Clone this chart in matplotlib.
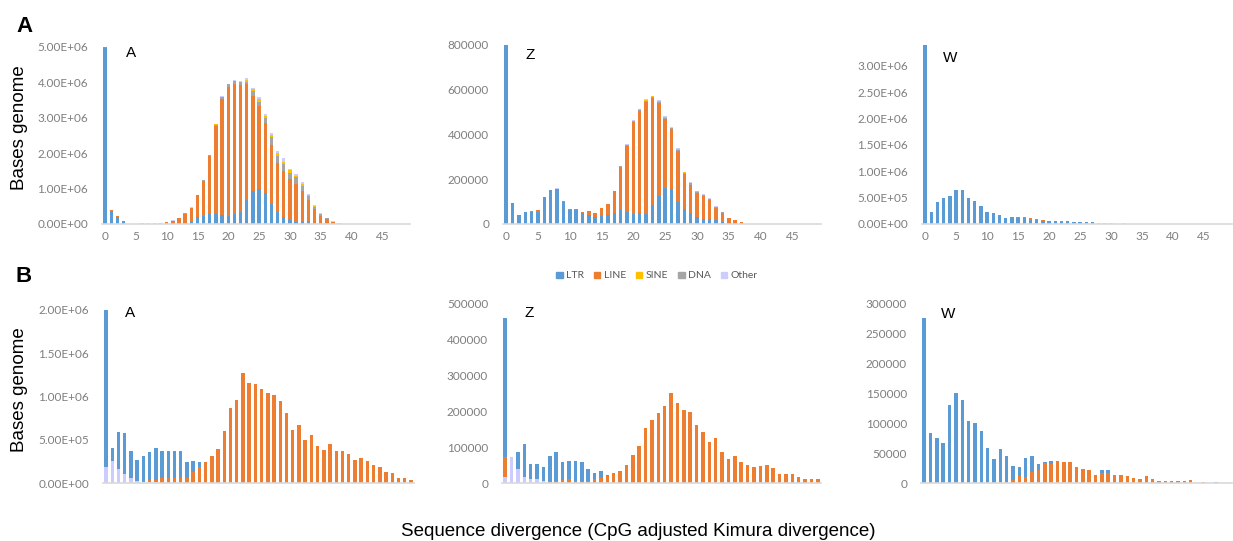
import numpy as np
import matplotlib
matplotlib.use("Agg")
import matplotlib.pyplot as plt
from matplotlib.patches import Patch

# ---- data (thousands of bases), bins = divergence 0..49 ----
bins = np.arange(50)

# top row: A, Z, W chromosomes
a_top_ltr = [4950, 370, 200, 80, 5, 5, 0, 0, 10, 10, 10, 20, 30, 40, 70, 190, 230, 280, 280, 250,
             230, 280, 350, 680, 930, 990, 860, 560, 330, 190, 110, 70, 70, 60, 30, 20, 10, 5, 0, 0,
             0, 0, 0, 0, 0, 0, 0, 0, 0, 0]
a_top_line = [50, 20, 20, 10, 0, 0, 0, 0, 0, 0, 40, 70, 130, 250, 380, 620, 990, 1630, 2480, 3280,
              3640, 3670, 3570, 3250, 2680, 2320, 1980, 1670, 1400, 1310, 1150, 1060, 870, 620, 390, 210, 120, 55, 0, 0,
              0, 0, 0, 0, 0, 0, 0, 0, 0, 0]
a_top_dna = [0, 0, 0, 0, 0, 0, 0, 0, 0, 0, 0, 0, 0, 10, 10, 10, 10, 20, 40, 50,
             60, 70, 70, 80, 150, 140, 160, 220, 190, 190, 190, 180, 140, 100, 70, 40, 30, 10, 0, 0,
             0, 0, 0, 0, 0, 0, 0, 0, 0, 0]
a_top_sine = [0, 0, 0, 0, 0, 0, 0, 0, 0, 0, 0, 0, 0, 0, 0, 0, 0, 0, 10, 10,
              10, 10, 10, 50, 50, 70, 50, 70, 80, 70, 60, 50, 50, 40, 20, 10, 10, 0, 0, 0,
              0, 0, 0, 0, 0, 0, 0, 0, 0, 0]
a_top_other = [0, 0, 0, 0, 0, 0, 20, 20, 20, 20, 10, 10, 10, 10, 10, 10, 10, 10, 10, 10,
               10, 20, 20, 40, 20, 50, 40, 50, 60, 90, 40, 40, 40, 30, 30, 20, 10, 10, 40, 0,
               0, 0, 0, 0, 0, 0, 0, 0, 0, 0]

z_top_ltr = [800, 92, 40, 52, 55, 55, 120, 150, 155, 100, 62, 62, 48, 40, 30, 36, 39, 51, 63, 55,
             45, 48, 45, 85, 125, 160, 155, 100, 67, 48, 30, 21, 21, 18, 10, 3, 1, 0, 0, 0,
             0, 0, 0, 0, 0, 0, 0, 0, 0, 0]
z_top_line = [0, 0, 0, 0, 3, 8, 2, 2, 3, 3, 5, 4, 7, 17, 18, 34, 51, 96, 192, 295,
              410, 458, 500, 477, 415, 310, 268, 225, 155, 128, 108, 103, 85, 55, 40, 23, 16, 7, 0, 0,
              0, 0, 0, 0, 0, 0, 0, 0, 0, 0]
z_top_dna = [0, 0, 0, 0, 0, 0, 0, 0, 0, 0, 0, 0, 0, 0, 0, 0, 0, 1, 2, 3,
             4, 4, 5, 5, 5, 5, 5, 6, 6, 6, 5, 5, 4, 3, 2, 1, 1, 0, 0, 0,
             0, 0, 0, 0, 0, 0, 0, 0, 0, 0]
z_top_sine = [0, 0, 0, 0, 0, 0, 0, 0, 0, 0, 0, 0, 0, 0, 0, 0, 0, 0, 1, 1,
              2, 2, 3, 3, 3, 3, 3, 3, 3, 3, 3, 2, 2, 2, 1, 0, 0, 0, 0, 0,
              0, 0, 0, 0, 0, 0, 0, 0, 0, 0]
z_top_other = [0, 2, 0, 0, 0, 0, 0, 0, 2, 0, 0, 0, 0, 0, 0, 0, 0, 1, 1, 2,
               4, 2, 4, 4, 4, 4, 4, 4, 3, 3, 3, 3, 3, 2, 2, 1, 0, 0, 0, 0,
               0, 0, 0, 0, 0, 0, 0, 0, 0, 0]

w_top_ltr = [3400, 220, 410, 500, 540, 650, 650, 490, 440, 350, 230, 200, 180, 120, 135, 120, 115, 85, 70, 55,
             50, 55, 45, 62, 45, 40, 30, 30, 0, 0, 0, 0, 0, 0, 0, 0, 0, 0, 0, 0,
             0, 0, 0, 0, 0, 0, 0, 0, 0, 0]
w_top_line = [0, 0, 0, 0, 0, 0, 0, 0, 0, 0, 0, 0, 0, 0, 5, 10, 15, 25, 30, 25,
              15, 10, 10, 3, 0, 0, 0, 0, 0, 0, 0, 0, 0, 0, 0, 0, 0, 0, 0, 0,
              0, 0, 0, 0, 0, 0, 0, 0, 0, 0]
w_top_other = [0, 0, 0, 0, 0, 0, 0, 0, 0, 0, 0, 0, 0, 0, 0, 0, 0, 0, 0, 0,
               0, 0, 0, 0, 0, 0, 0, 0, 20, 20, 20, 0, 20, 0, 0, 0, 0, 0, 0, 0,
               0, 0, 0, 0, 0, 0, 0, 0, 0, 0]

# bottom row
a_bot_other = [180, 260, 160, 100, 60, 25, 10, 10, 8, 5, 5, 5, 5, 3, 0, 0, 0, 0, 0, 0,
               0, 0, 0, 0, 0, 0, 0, 0, 0, 0, 0, 0, 0, 0, 0, 0, 0, 0, 0, 0,
               0, 0, 0, 0, 0, 0, 0, 0, 0, 0]
a_bot_dna = [0, 0, 0, 0, 0, 0, 0, 0, 0, 0, 0, 0, 0, 0, 0, 0, 0, 0, 0, 0,
             0, 0, 0, 0, 0, 0, 5, 5, 5, 5, 5, 5, 5, 5, 5, 5, 5, 5, 5, 5,
             5, 0, 0, 0, 0, 0, 0, 0, 0, 0]
a_bot_line = [0, 0, 0, 0, 0, 0, 10, 30, 30, 55, 55, 55, 55, 57, 130, 180, 245, 310, 390, 600,
              870, 965, 1270, 1160, 1150, 1090, 1030, 1010, 940, 805, 605, 665, 490, 545, 420, 375, 450, 365, 365, 335,
              265, 290, 250, 205, 180, 130, 110, 60, 55, 30]
a_bot_ltr = [1820, 140, 430, 480, 310, 245, 290, 320, 372, 310, 310, 310, 310, 180, 130, 65, 0, 0, 0, 0,
             0, 0, 0, 0, 0, 0, 0, 0, 0, 0, 0, 0, 0, 0, 0, 0, 0, 0, 0, 0,
             0, 0, 0, 0, 0, 0, 0, 0, 0, 0]

z_bot_other = [16, 73, 39, 16, 11, 10, 5.5, 0, 0, 3, 0, 0, 0, 0, 0, 0, 0, 0, 0, 0,
               0, 0, 0, 0, 0, 0, 0, 0, 0, 0, 0, 0, 0, 0, 0, 0, 0, 0, 0, 0,
               0, 0, 0, 0, 0, 0, 0, 0, 0, 0]
z_bot_line = [57, 0, 0, 0, 0, 0, 0, 6.5, 6.5, 5, 10, 5, 5, 5, 10, 13, 19.5, 27, 33, 50,
              78, 103, 154, 176, 194, 215, 249, 221, 204, 196, 160, 141, 115, 124, 86, 68, 74, 57, 49, 44,
              46, 49, 43, 26, 26, 24, 17, 12, 11, 10]
z_bot_ltr = [385, 0, 46, 93, 42, 43, 39.5, 68.5, 79.5, 51, 51, 57, 52, 33, 17, 20, 1.5, 2, 0, 0,
             0, 0, 0, 0, 0, 0, 0, 0, 0, 0, 0, 0, 0, 0, 0, 0, 0, 0, 0, 0,
             0, 0, 0, 0, 0, 0, 0, 0, 0, 0]

w_bot_line = [0, 0, 0, 0, 0, 0, 0, 0, 0, 0, 0, 0, 0, 2, 5, 12, 10, 18, 22, 33,
              32, 37, 35, 35, 26, 23, 22, 13, 16, 16, 14, 14, 11, 8, 6, 11, 7, 4, 3, 4,
              3, 3, 4.5, 0, 1, 0, 0, 0, 0]
w_bot_ltr = [275, 84, 75, 66, 130, 150, 138, 103, 100, 86, 58, 40, 56, 43, 23, 14, 32, 27, 9, 2,
             4, 0, 0, 0, 0, 0, 0, 1, 6, 6, 0, 0, 0, 0, 0, 0, 0, 0, 0, 0,
             0, 0, 0, 0, 0, 0, 1.5, 0, 0]

series_names = ["LTR", "LINE", "SINE", "DNA", "Other"]
colors = {"LTR": "#5B9BD5", "LINE": "#ED7D31", "SINE": "#FFC000", "DNA": "#A5A5A5", "Other": "#CCCCFF"}

W, H = 1233, 541
fig = plt.figure(figsize=(W / 100, H / 100), dpi=100)
tick_font = "Lato"
label_font = "Liberation Sans"


def panel(px0, px1, pybot, pytop, layers, ymax, yticks, sci, name, name_xy, xlabels=True):
    ax = fig.add_axes([px0 / W, 1 - pybot / H, (px1 - px0) / W, (pybot - pytop) / H])
    n = len(layers[0][1])
    x = np.arange(n)
    bottom = np.zeros(n)
    for key, vals in layers:
        v = np.array(vals, dtype=float) * 1000
        ax.bar(x, v, width=0.55, bottom=bottom, color=colors[key], linewidth=0)
        bottom += v
    ax.set_xlim(-0.5, n - 0.5)
    ax.set_ylim(0, ymax)
    ax.set_yticks(yticks)
    if sci:
        ax.set_yticklabels([f"{t:.2E}" for t in yticks])
    else:
        ax.set_yticklabels([f"{int(t)}" for t in yticks])
    if xlabels:
        ax.set_xticks(np.arange(0, 50, 5))
    else:
        ax.set_xticks([])
    for s in ["top", "right", "left"]:
        ax.spines[s].set_visible(False)
    ax.spines["bottom"].set_color("#D9D9D9")
    ax.spines["bottom"].set_linewidth(1.2)
    ax.tick_params(length=0, colors="#7F7F7F", labelsize=8.5, pad=5)
    ax.tick_params(axis="y", pad=10)
    for lab in ax.get_xticklabels() + ax.get_yticklabels():
        lab.set_fontfamily(tick_font)
    ax.patch.set_alpha(0)
    fig.text(name_xy[0] / W, 1 - name_xy[1] / H, name, fontsize=11, family=label_font,
             ha="center", va="center")
    return ax


# top row
panel(102, 410, 224, 46.5,
      [("LTR", a_top_ltr), ("LINE", a_top_line), ("DNA", a_top_dna), ("SINE", a_top_sine), ("Other", a_top_other)],
      5.0e6, np.arange(0, 5.01e6, 1e6), True, "A", (131, 53))
panel(503, 821, 224, 45,
      [("LTR", z_top_ltr), ("LINE", z_top_line), ("DNA", z_top_dna), ("SINE", z_top_sine), ("Other", z_top_other)],
      8.0e5, np.arange(0, 8.01e5, 2e5), False, "Z", (530, 55))
panel(922, 1232, 224, 42,
      [("LTR", w_top_ltr), ("LINE", w_top_line), ("Other", w_top_other)],
      3.45e6, np.arange(0, 3.01e6, 5e5), True, "W", (950, 58))

# bottom row
panel(103, 414, 483, 310,
      [("Other", a_bot_other), ("DNA", a_bot_dna), ("LINE", a_bot_line), ("LTR", a_bot_ltr)],
      2.0e6, np.arange(0, 2.01e6, 5e5), True, "A", (130, 313), xlabels=False)
panel(502, 821, 483, 303,
      [("Other", z_bot_other), ("LINE", z_bot_line), ("LTR", z_bot_ltr)],
      5.0e5, np.arange(0, 5.01e5, 1e5), False, "Z", (529, 313), xlabels=False)
panel(921, 1232, 483, 303,
      [("LINE", w_bot_line), ("LTR", w_bot_ltr)],
      3.0e5, np.arange(0, 3.01e5, 5e4), False, "W", (948, 314), xlabels=False)

# legend
handles = [Patch(color=colors[k], label=k) for k in series_names]
leg = fig.legend(handles=handles, loc="center", bbox_to_anchor=(657 / W, 1 - 276 / H), ncol=5,
                 frameon=False, fontsize=7.5, handlelength=0.6, handleheight=0.6,
                 handletextpad=0.3, columnspacing=1.0)
for t in leg.get_texts():
    t.set_color("#595959")
    t.set_fontfamily(tick_font)

# outer labels
fig.text(25 / W, 1 - 26 / H, "A", fontsize=16, fontweight="heavy", family=label_font, ha="center", va="center")
fig.text(24 / W, 1 - 277 / H, "B", fontsize=16, fontweight="heavy", family=label_font, ha="center", va="center")
fig.text(20 / W, 1 - 128 / H, "Bases genome", fontsize=13.5, family=label_font, rotation=90, ha="center", va="center")
fig.text(20 / W, 1 - 390 / H, "Bases genome", fontsize=13.5, family=label_font, rotation=90, ha="center", va="center")
fig.text(638 / W, 1 - 531 / H, "Sequence divergence (CpG adjusted Kimura divergence)", fontsize=13.5,
         family=label_font, ha="center", va="center")

fig.savefig("out.png", dpi=100, facecolor="white")
